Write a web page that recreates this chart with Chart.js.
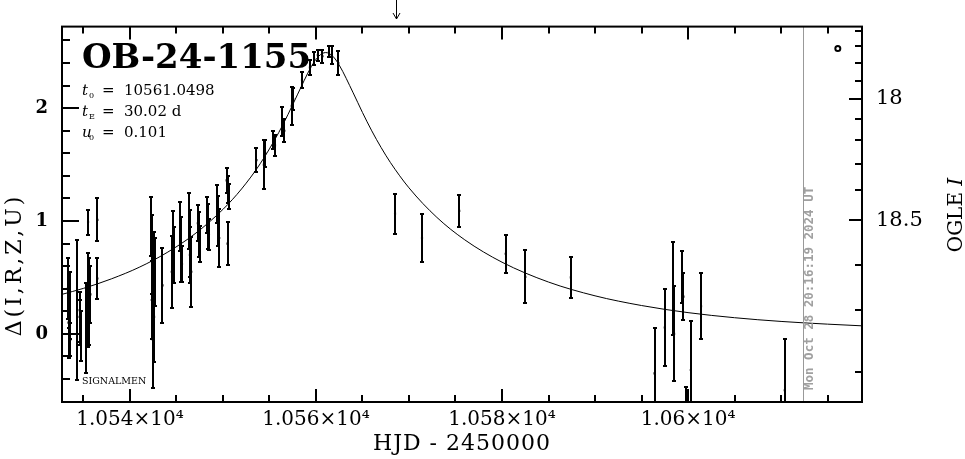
<!DOCTYPE html>
<html>
<head>
<meta charset="utf-8">
<script src="https://cdn.jsdelivr.net/npm/chart.js@4.4.1/dist/chart.umd.min.js"></script>
<style>
  body { margin: 0; background: #fff; }
  canvas { display: block; }
</style>
</head>
<body>
<canvas id="Chart" width="965" height="459" style="width:965px;height:459px"></canvas>
<script>
// observations: HJD-2450000, delta, error
const obsT = [10533.3, 10533.4, 10533.45, 10533.55, 10533.6, 10534.35, 10534.6, 10534.65, 10534.7, 10535.3, 10535.45, 10535.6, 10535.55, 10535.65, 10535.75, 10535.5, 10536.5, 10536.5,
  10542.3, 10542.35, 10542.4, 10542.5, 10542.6, 10542.65, 10542.45, 10542.55, 10543.5, 10544.6, 10544.5, 10544.7,
  10545.4, 10545.5, 10545.6, 10546.4, 10546.5, 10546.6, 10546.45, 10547.3, 10547.4, 10547.5,
  10548.3, 10548.4, 10548.5, 10549.4, 10549.5, 10549.6, 10550.4, 10550.5, 10550.6, 10550.5,
  10553.6, 10554.4, 10554.55, 10555.4, 10555.6, 10556.4, 10556.6, 10557.4, 10557.55, 10558.5,
  10559.35, 10559.8, 10560.2, 10560.7, 10561.4, 10561.7, 10562.4,
  10568.5, 10571.4, 10575.4, 10580.4, 10582.5, 10587.4,
  10596.4, 10597.5, 10598.4, 10598.5, 10599.4, 10599.5, 10599.8, 10600.3, 10601.4, 10610.4];
const obsD = [0.40, 0.10, 0.30, 0.25, -0.05, 0.21, 0.15, 0.10, -0.02, 0.05, 0.30, 0.42, 0.20, 0.25, 0.35, 0.99, 1.01, 0.49,
  0.95, 0.30, 0.70, 0.42, 0.15, 0.55, -0.05, 0.60, 0.43, 0.85, 0.55, 0.70,
  0.95, 0.75, 0.62, 1.00, 0.80, 0.55, 0.70, 0.98, 0.88, 0.80,
  1.05, 0.95, 0.88, 1.15, 1.00, 0.85, 1.36, 1.28, 1.22, 0.80,
  1.54, 1.50, 1.60, 1.72, 1.67, 1.88, 1.80, 2.02, 2.08, 2.25,
  2.36, 2.44, 2.47, 2.46, 2.50, 2.47, 2.40,
  1.065, 0.85, 1.09, 0.71, 0.505, 0.50,
  -0.35, 0.056, 0.40, 0.00, 0.50, 0.33, -0.75, -0.32, 0.245, -0.50];
const obsErr = [0.27, 0.31, 0.25, 0.30, 0.15, 0.62, 0.22, 0.20, 0.22, 0.40, 0.42, 0.25, 0.30, 0.35, 0.25, 0.11, 0.19, 0.18,
  0.26, 0.35, 0.35, 0.38, 0.40, 0.30, 0.43, 0.30, 0.33, 0.24, 0.32, 0.25,
  0.22, 0.29, 0.16, 0.25, 0.30, 0.31, 0.25, 0.16, 0.20, 0.16,
  0.16, 0.20, 0.14, 0.17, 0.22, 0.26, 0.11, 0.12, 0.11, 0.19,
  0.11, 0.22, 0.12, 0.08, 0.09, 0.13, 0.10, 0.17, 0.10, 0.07,
  0.07, 0.06, 0.05, 0.06, 0.05, 0.08, 0.11,
  0.177, 0.21, 0.14, 0.17, 0.235, 0.18,
  0.40, 0.34, 0.41, 0.42, 0.23, 0.21, 0.28, 0.43, 0.295, 0.45];

// model curve
const curveT = [10532.7, 10535, 10538, 10541, 10544, 10547, 10550, 10552, 10554, 10556, 10557, 10558, 10559.5, 10560.3, 10561.05,
  10561.8, 10562.5, 10564, 10565, 10566, 10567, 10568, 10570, 10573, 10576, 10580, 10585, 10590, 10595, 10600, 10605, 10610, 10615, 10618.7];
const curveD = [0.350, 0.403, 0.487, 0.590, 0.721, 0.887, 1.103, 1.284, 1.507, 1.784, 1.945, 2.118, 2.368, 2.461, 2.493,
  2.461, 2.382, 2.136, 1.962, 1.799, 1.652, 1.519, 1.294, 1.032, 0.833, 0.635, 0.459, 0.337, 0.251, 0.188, 0.143, 0.110, 0.086, 0.071];

const markerT = [10616.1];
const markerD = [2.528];

// ticks
const xMajorTicks = [10540, 10560, 10580, 10600];
const xTickLabels = ["1.054×10⁴", "1.056×10⁴", "1.058×10⁴", "1.06×10⁴"];
const xMinorTicks = [10535, 10545, 10550, 10555, 10565, 10570, 10575, 10585, 10590, 10595, 10605, 10610, 10615];
const yMajorTicks = [0, 1, 2];
const yTickLabels = ["0", "1", "2"];
const yMinorTicks = [-0.4, -0.2, 0.2, 0.4, 0.6, 0.8, 1.2, 1.4, 1.6, 1.8, 2.2, 2.4, 2.6];
const rightTickDelta = [2.688, 2.555, 2.398, 2.245, 2.083, 1.906, 1.720, 1.502, 1.272, 1.006, 0.608, 0.210, -0.336];
const rightTickLabels = ["", "", "", "", "18", "", "", "", "", "18.5", "", "", ""];

const xMin = 10532.7, xMax = 10618.7;
const yMin = -0.604, yMax = 2.723;
const nowT = 10612.34;
const arrowT = 10568.6;

const serif = '"DejaVu Serif", serif';

const decorPlugin = {
    id: 'decor',
    afterDatasetsDraw(chart) {
        const ctx = chart.ctx;
        const xs = chart.scales.x, ys = chart.scales.y;
        const a = chart.chartArea;

        // grey "now" line
        ctx.save();
        ctx.strokeStyle = '#999999';
        ctx.lineWidth = 1;
        const xn = Math.round(xs.getPixelForValue(nowT)) + 0.5;
        ctx.beginPath(); ctx.moveTo(xn, a.top); ctx.lineTo(xn, a.bottom); ctx.stroke();
        ctx.restore();

        // error bars
        ctx.save();
        ctx.beginPath(); ctx.rect(a.left, a.top, a.right - a.left, a.bottom - a.top); ctx.clip();
        ctx.strokeStyle = '#000'; ctx.lineWidth = 2;
        for (let i = 0; i < obsT.length; i++) {
            const x = Math.round(xs.getPixelForValue(obsT[i]));
            const y1 = Math.round(ys.getPixelForValue(obsD[i] + obsErr[i]));
            const y2 = Math.round(ys.getPixelForValue(obsD[i] - obsErr[i]));
            ctx.beginPath();
            ctx.moveTo(x, y1); ctx.lineTo(x, y2);
            ctx.moveTo(x - 2, y1); ctx.lineTo(x + 2, y1);
            ctx.moveTo(x - 2, y2); ctx.lineTo(x + 2, y2);
            ctx.stroke();
        }
        ctx.restore();
    },
    afterDraw(chart) {
        const ctx = chart.ctx;
        const xs = chart.scales.x, ys = chart.scales.y;
        const a = chart.chartArea;
        ctx.save();
        ctx.strokeStyle = '#000';
        ctx.fillStyle = '#000';
        ctx.lineWidth = 2;
        ctx.strokeRect(a.left, a.top, a.right - a.left, a.bottom - a.top);

        const major = 13, minor = 7;
        ctx.beginPath();
        xMajorTicks.concat(xMinorTicks).forEach(v => {
            const len = xMajorTicks.includes(v) ? major : minor;
            const x = Math.round(xs.getPixelForValue(v));
            ctx.moveTo(x, a.bottom); ctx.lineTo(x, a.bottom - len);
            ctx.moveTo(x, a.top); ctx.lineTo(x, a.top + len);
        });
        yMajorTicks.concat(yMinorTicks).forEach(v => {
            const len = yMajorTicks.includes(v) ? major + 4 : minor + 1;
            const y = Math.round(ys.getPixelForValue(v));
            ctx.moveTo(a.left, y); ctx.lineTo(a.left + len, y);
        });
        rightTickDelta.forEach((v, i) => {
            const len = rightTickLabels[i] ? major : minor;
            const y = Math.round(ys.getPixelForValue(v));
            ctx.moveTo(a.right, y); ctx.lineTo(a.right - len, y);
        });
        ctx.stroke();

        // arrow above the frame
        const xa = Math.round(xs.getPixelForValue(arrowT)) + 0.5;
        ctx.lineWidth = 1;
        ctx.beginPath();
        ctx.moveTo(xa, 0); ctx.lineTo(xa, 19);
        ctx.moveTo(xa - 3.5, 13); ctx.lineTo(xa, 19); ctx.lineTo(xa + 3.5, 13);
        ctx.stroke();

        // labels
        ctx.textBaseline = 'alphabetic';
        ctx.textAlign = 'left';
        ctx.font = 'bold 34px ' + serif;
        ctx.fillText('OB-24-1155', 82, 68);

        const param = (name, sub, val, y) => {
            ctx.font = 'italic 15px ' + serif;
            ctx.fillText(name, 82, y);
            ctx.font = '8px ' + serif;
            ctx.fillText(sub, 89, y + 3);
            ctx.font = '15px ' + serif;
            ctx.fillText('=', 102, y);
            ctx.fillText(val, 124, y);
        };
        param('t', '0', '10561.0498', 95);
        param('t', 'E', '30.02 d', 116);
        param('u', '0', '0.101', 137);

        ctx.font = '9.5px ' + serif;
        ctx.fillText('SIGNALMEN', 82, 384);

        ctx.font = '22px ' + serif;
        ctx.textAlign = 'center';
        ctx.letterSpacing = '1px';
        ctx.fillText('HJD - 2450000', (a.left + a.right) / 2, 450);

        ctx.save();
        ctx.translate(21, 265);
        ctx.rotate(-Math.PI / 2);
        ctx.font = '22px ' + serif;
        ctx.letterSpacing = '3px';
        ctx.fillText('Δ(I,R,Z,U)', 0, 0);
        ctx.restore();
        ctx.letterSpacing = '0px';

        ctx.save();
        ctx.translate(962, 215);
        ctx.rotate(-Math.PI / 2);
        ctx.textAlign = 'left';
        ctx.font = '20px ' + serif;
        const w1 = ctx.measureText('OGLE ').width;
        ctx.font = 'italic 20px ' + serif;
        const w2 = ctx.measureText('I').width;
        ctx.font = '20px ' + serif;
        ctx.fillText('OGLE ', -(w1 + w2) / 2, 0);
        ctx.font = 'italic 20px ' + serif;
        ctx.fillText('I', -(w1 + w2) / 2 + w1, 0);
        ctx.restore();

        ctx.save();
        const xn = Math.round(xs.getPixelForValue(nowT));
        ctx.translate(xn + 7, 390);
        ctx.rotate(-Math.PI / 2);
        ctx.textAlign = 'left';
        ctx.textBaseline = 'middle';
        ctx.fillStyle = '#a0a0a0';
        ctx.font = 'bold 12.5px "DejaVu Sans Mono", monospace';
        ctx.fillText('Mon Oct 28 20:16:19 2024 UT', 0, 0);
        ctx.restore();

        ctx.restore();
    }
};

function createChart() {
    const curve = curveT.map((t, i) => ({ x: t, y: curveD[i] }));
    const obs = obsT.map((t, i) => ({ x: t, y: obsD[i] }));
    const marker = markerT.map((t, i) => ({ x: t, y: markerD[i] }));

    return new Chart("Chart", {
        type: "scatter",
        data: {
            datasets: [{
                type: "line",
                data: curve,
                borderColor: "#000",
                borderWidth: 1,
                pointRadius: 0,
                cubicInterpolationMode: "monotone",
                fill: false
            }, {
                data: obs,
                pointStyle: "rect",
                pointRadius: 1.5,
                backgroundColor: "#000",
                borderWidth: 0
            }, {
                data: marker,
                pointRadius: 2.5,
                borderWidth: 2,
                borderColor: "#000",
                backgroundColor: "#fff"
            }]
        },
        options: {
            responsive: false,
            animation: false,
            events: [],
            layout: { padding: { top: 26, left: 0, right: 0, bottom: 0 } },
            plugins: { legend: { display: false }, tooltip: { enabled: false } },
            scales: {
                x: {
                    type: "linear", min: xMin, max: xMax,
                    grid: { display: false, drawTicks: false },
                    border: { display: false },
                    afterBuildTicks: s => { s.ticks = xMajorTicks.map(v => ({ value: v })); },
                    afterFit: s => { s.height = 57; },
                    ticks: {
                        callback: (v, i) => xTickLabels[i],
                        font: { family: "DejaVu Serif", size: 20 },
                        color: "#000", padding: 6, maxRotation: 0, autoSkip: false
                    }
                },
                y: {
                    position: "left", min: yMin, max: yMax,
                    grid: { display: false, drawTicks: false },
                    border: { display: false },
                    afterBuildTicks: s => { s.ticks = yMajorTicks.map(v => ({ value: v })); },
                    afterFit: s => { s.width = 62; },
                    ticks: {
                        callback: (v, i) => yTickLabels[i],
                        font: { family: "DejaVu Serif", size: 18, weight: "bold" },
                        color: "#000", padding: 14, autoSkip: false
                    }
                },
                y2: {
                    position: "right", min: yMin, max: yMax,
                    grid: { display: false, drawTicks: false },
                    border: { display: false },
                    afterBuildTicks: s => { s.ticks = rightTickDelta.map(v => ({ value: v })); },
                    afterFit: s => { s.width = 103; },
                    ticks: {
                        callback: (v, i) => rightTickLabels[i],
                        font: { family: "DejaVu Serif", size: 21 },
                        color: "#000", padding: 14, autoSkip: false
                    }
                }
            }
        },
        plugins: [decorPlugin]
    });
}

createChart();
</script>
</body>
</html>
